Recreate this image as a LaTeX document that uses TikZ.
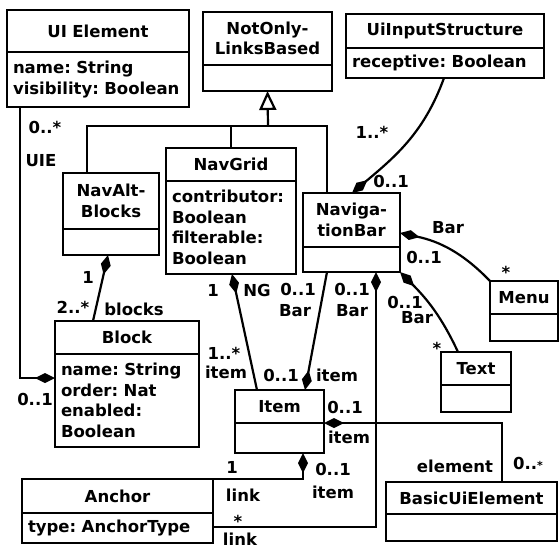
\documentclass[tikz,border=0pt]{standalone}
\usepackage{fontspec}
\setmainfont{DejaVu Sans}
\frenchspacing
\usetikzlibrary{arrows.meta}

\begin{document}
\begin{tikzpicture}[x=1pt,y=-1pt,line width=2.2pt,font=\bfseries\fontsize{16.5}{20.5}\selectfont]
	\tikzstyle{cls}=[draw,anchor=north west,outer sep=0pt,inner xsep=6pt,inner ysep=2pt]
	\tikzstyle{head}=[cls,align=center]
	\tikzstyle{attr}=[cls,align=left]
	\tikzstyle{lbl}=[inner sep=0pt,text height=12pt,text depth=0pt]
	\tikzstyle{comp}=[{Diamond[length=20pt,width=10pt]}-]
	\tikzstyle{compr}=[-{Diamond[length=20pt,width=10pt]}]

	\useasboundingbox (0,0) rectangle (560,550);

	% classes
	\node[head,text width=170pt,minimum height=42pt] (uie) at (7,10) {UI Element};
	\node[attr,text width=170pt,minimum height=55pt] (uieB) at (uie.south west) {name: String\\visibility: Boolean};
	\node[head,text width=117pt,minimum height=53pt] (nolb) at (203,12) {NotOnly-\\LinksBased};
	\node[attr,text width=117pt,minimum height=26pt] (nolbB) at (nolb.south west) {};
	\node[head,text width=186pt,minimum height=34pt] (uis) at (346,14) {UiInputStructure};
	\node[attr,text width=186pt,minimum height=30pt] (uisB) at (uis.south west) {receptive: Boolean};
	\node[head,text width=84pt,minimum height=56pt] (nab) at (63,173) {NavAlt-\\Blocks};
	\node[attr,text width=84pt,minimum height=26pt] (nabB) at (nab.south west) {};
	\node[head,text width=118pt,minimum height=33pt] (ng) at (166,148) {NavGrid};
	\node[attr,text width=118pt,minimum height=93pt] (ngB) at (ng.south west) {contributor:\\Boolean\\filterable:\\Boolean};
	\node[head,text width=85pt,minimum height=54pt] (nb) at (303,193) {Naviga-\\tionBar};
	\node[attr,text width=85pt,minimum height=25pt] (nbB) at (nb.south west) {};
	\node[head,text width=56pt,minimum height=33pt] (menu) at (490,281) {Menu};
	\node[attr,text width=56pt,minimum height=27pt] (menuB) at (menu.south west) {};
	\node[head,text width=58pt,minimum height=33pt] (txt) at (441,352) {Text};
	\node[attr,text width=58pt,minimum height=27pt] (txtB) at (txt.south west) {};
	\node[head,text width=132pt,minimum height=33pt] (blk) at (55,321) {Block};
	\node[attr,text width=132pt,minimum height=93pt] (blkB) at (blk.south west) {name: String\\order: Nat\\enabled:\\Boolean};
	\node[head,text width=77pt,minimum height=33pt] (item) at (235,390) {Item};
	\node[attr,text width=77pt,minimum height=30pt] (itemB) at (item.south west) {};
	\node[head,text width=179pt,minimum height=34pt] (anc) at (22,479) {Anchor};
	\node[attr,text width=179pt,minimum height=30pt] (ancB) at (anc.south west) {type: AnchorType};
	\node[head,text width=159pt,minimum height=32pt] (bue) at (386,482) {BasicUiElement};
	\node[attr,text width=159pt,minimum height=27pt] (bueB) at (bue.south west) {};

	% generalisation
	\coordinate (gen) at (268,126);
	\draw[-{Triangle[open,length=19pt,width=17pt]}] (gen) -- (nolbB.south);
	\draw ([xshift=24pt]nab.north west) |- (gen) -| ([xshift=24pt]nb.north west);
	\draw (ng.north) -- (ng.north |- gen);

	% associations
	\draw[compr] ([xshift=13pt]uieB.south west) |- ([yshift=-24pt]blkB.north west);
	\draw[comp] ([xshift=45pt]nabB.south west) -- ([xshift=38pt]blk.north west);
	\draw[comp] ([xshift=66pt]ngB.south west) -- ([xshift=22pt]item.north west);
	\draw[compr] ([xshift=24pt]nbB.south west) -- ([xshift=70pt]item.north west);
	\draw[comp] ([xshift=73pt]nbB.south west) |- ([yshift=16pt]ancB.south east);
	\draw[comp] ([xshift=68pt]itemB.south west) |- (anc.north east);
	\draw[comp] (itemB.north east) -| ([xshift=116pt]bue.north west);
	\draw[compr] ([xshift=98pt]uisB.south west) to[out=-110,in=40] ([xshift=49pt]nb.north west);
	\draw[comp] ([yshift=-40pt]nb.north east) to[out=-12,in=134] (menu.north west);
	\draw[comp] (nbB.south east) to[out=-45,in=115] ([xshift=17pt]txt.north west);

	% role names and multiplicities
	\node[lbl] (r1) at (45,127) {0..*};
	\node[lbl] (r2) at (41,160) {UIE};
	\node[lbl] (r3) at (35,399) {0..1};
	\node[lbl] (r4) at (88,277) {1};
	\node[lbl] (r5) at (73,307) {2..*};
	\node[lbl] (r6) at (134,309) {blocks};
	\node[lbl] (r7) at (213,290) {1};
	\node[lbl] (r8) at (257,290) {NG};
	\node[lbl] (r9) at (224,353) {1..*};
	\node[lbl] (r10) at (226,372) {item};
	\node[lbl] (r11) at (298,289) {0..1};
	\node[lbl] (r12) at (295,310) {Bar};
	\node[lbl] (r13) at (281,375) {0..1};
	\node[lbl] (r14) at (337,375) {item};
	\node[lbl] (r15) at (352,289) {0..1};
	\node[lbl] (r16) at (352,310) {Bar};
	\node[lbl] (r17) at (238,521) {*};
	\node[lbl] (r18) at (240,539) {link};
	\node[lbl] (r19) at (345,407) {0..1};
	\node[lbl] (r20) at (349,437) {item};
	\node[lbl] (r21) at (232,467) {1};
	\node[lbl] (r22) at (243,495) {link};
	\node[lbl] (r23) at (333,469) {0..1};
	\node[lbl] (r24) at (333,492) {item};
	\node[lbl] (r25) at (455,466) {element};
	\node[lbl] (r26) at (528,463) {0..{\fontsize{11}{11}\selectfont*}};
	\node[lbl] (r27) at (372,132) {1..*};
	\node[lbl] (r28) at (391,181) {0..1};
	\node[lbl] (r29) at (448,227) {Bar};
	\node[lbl] (r30) at (424,257) {0..1};
	\node[lbl] (r31) at (506,272) {*};
	\node[lbl] (r32) at (405,302) {0..1};
	\node[lbl] (r33) at (417,317) {Bar};
	\node[lbl] (r34) at (437,348) {*};
\end{tikzpicture}
\end{document}
